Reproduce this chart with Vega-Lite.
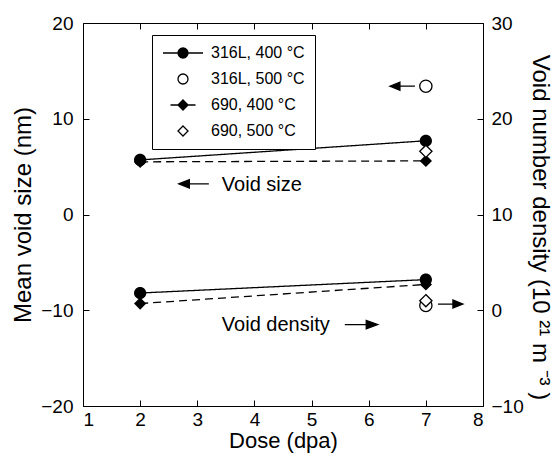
{
  "$schema": "https://vega.github.io/schema/vega-lite/v6.json",
  "width": 400,
  "height": 383,
  "autosize": "none",
  "padding": {"left": 83, "top": 23, "right": 77, "bottom": 52},
  "background": "white",
  "config": {
    "font": "Liberation Sans",
    "view": {"stroke": "black", "strokeWidth": 1},
    "axis": {
      "grid": false,
      "domain": false,
      "ticks": true,
      "tickColor": "black",
      "tickSize": -6,
      "labelFontSize": 19,
      "labelColor": "black",
      "labelFont": "Liberation Sans",
      "titleFontSize": 24,
      "titleFontWeight": "normal",
      "titleColor": "black",
      "titleFont": "Liberation Sans"
    }
  },
  "data": {
    "values": [
      {"series": "316L, 400 °C", "alloy": "316L", "temp": 400, "dose": 2, "size": 5.7, "density": 1.8},
      {"series": "316L, 400 °C", "alloy": "316L", "temp": 400, "dose": 7, "size": 7.7, "density": 3.2},
      {"series": "690, 400 °C", "alloy": "690", "temp": 400, "dose": 2, "size": 5.5, "density": 0.7},
      {"series": "690, 400 °C", "alloy": "690", "temp": 400, "dose": 7, "size": 5.6, "density": 2.7},
      {"series": "316L, 500 °C", "alloy": "316L", "temp": 500, "dose": 7, "size": 13.4, "density": 0.5},
      {"series": "690, 500 °C", "alloy": "690", "temp": 500, "dose": 7, "size": 6.6, "density": 1.0}
    ]
  },
  "layer": [
    {
      "layer": [
        {
          "encoding": {
            "x": {
              "field": "dose", "type": "quantitative",
              "scale": {"domain": [1, 8]},
              "axis": {"orient": "bottom", "values": [1, 2, 3, 4, 5, 6, 7, 8], "format": "d", "title": "Dose (dpa)", "titleFontSize": 22, "labelPadding": 10, "titlePadding": 1}
            },
            "y": {
              "field": "size", "type": "quantitative",
              "scale": {"domain": [-20, 20]},
              "axis": {"orient": "left", "values": [-20, -10, 0, 10, 20], "format": "d", "title": "Mean void size (nm)", "labelPadding": 16, "titlePadding": 5}
            }
          },
          "layer": [
            {
              "transform": [{"filter": "datum.temp == 400"}],
              "mark": {"type": "line", "color": "black", "strokeWidth": 1.3},
              "encoding": {
                "detail": {"field": "series"},
                "strokeDash": {"field": "alloy", "type": "nominal", "scale": {"domain": ["316L", "690"], "range": [[1, 0], [8, 5]]}, "legend": null}
              }
            },
            {
              "mark": {"type": "point", "filled": false, "opacity": 1, "size": 150},
              "encoding": {
                "shape": {
                  "field": "series", "type": "nominal",
                  "scale": {
                    "domain": ["316L, 400 °C", "316L, 500 °C", "690, 400 °C", "690, 500 °C"],
                    "range": [
                      "M-4,0H-1M1,0H4M-1,0A1,1 0 1,0 1,0A1,1 0 1,0 -1,0Z",
                      "M-1,0A1,1 0 1,0 1,0A1,1 0 1,0 -1,0Z",
                      "M-2.5,0H-1M1,0H2.5M0,-1L1,0L0,1L-1,0Z",
                      "M0,-1L1,0L0,1L-1,0Z"
                    ]
                  },
                  "legend": {
                    "orient": "none", "legendX": 69, "legendY": 12, "title": null,
                    "padding": 10, "strokeColor": "black", "fillColor": "white",
                    "symbolSize": 100, "symbolOffset": 13, "labelOffset": 20, "rowPadding": 10,
                    "labelFontSize": 16, "labelColor": "black", "labelFont": "Liberation Sans",
                    "symbolStrokeColor": "black", "symbolStrokeWidth": 1.3
                  }
                },
                "fill": {
                  "field": "series", "type": "nominal",
                  "scale": {"domain": ["316L, 400 °C", "316L, 500 °C", "690, 400 °C", "690, 500 °C"], "range": ["black", "white", "black", "white"]}
                },
                "stroke": {
                  "field": "series", "type": "nominal",
                  "scale": {"domain": ["316L, 400 °C", "316L, 500 °C", "690, 400 °C", "690, 500 °C"], "range": ["black", "black", "black", "black"]}
                },
                "strokeWidth": {"condition": {"test": "datum.temp == 500", "value": 1.3}, "value": 0}
              }
            }
          ]
        },
        {
          "data": {"values": [{"note": "Void size"}]},
          "mark": {"type": "text", "align": "left", "baseline": "middle", "fontSize": 20, "color": "black"},
          "encoding": {"x": {"datum": 3.43}, "y": {"datum": 3.1}, "text": {"field": "note"}}
        },
        {
          "data": {"values": [{"note": "Void density"}]},
          "mark": {"type": "text", "align": "left", "baseline": "middle", "fontSize": 20, "color": "black"},
          "encoding": {"x": {"datum": 3.43}, "y": {"datum": -11.5}, "text": {"field": "note"}}
        },
        {
          "data": {"values": [{"note": "size arrow"}]},
          "mark": {"type": "point", "shape": "M-1,0H0.4M1,0L0.3,-0.28L0.3,0.28Z", "filled": true, "fill": "black", "stroke": "black", "strokeWidth": 1.3, "opacity": 1, "size": 900, "angle": 180},
          "encoding": {"x": {"datum": 2.94}, "y": {"datum": 3.2}}
        },
        {
          "data": {"values": [{"note": "density arrow"}]},
          "mark": {"type": "point", "shape": "M-1,0H0.4M1,0L0.3,-0.25L0.3,0.25Z", "filled": true, "fill": "black", "stroke": "black", "strokeWidth": 1.3, "opacity": 1, "size": 1089},
          "encoding": {"x": {"datum": 5.87}, "y": {"datum": -11.5}}
        },
        {
          "data": {"values": [{"note": "316L 500 size arrow"}]},
          "mark": {"type": "point", "shape": "M-1,0H0.3M1,0L0.2,-0.32L0.2,0.32Z", "filled": true, "fill": "black", "stroke": "black", "strokeWidth": 1.3, "opacity": 1, "size": 625, "angle": 180},
          "encoding": {"x": {"datum": 6.59}, "y": {"datum": 13.4}}
        },
        {
          "data": {"values": [{"note": "500 density arrow"}]},
          "mark": {"type": "point", "shape": "M-1,0H0.3M1,0L0.2,-0.32L0.2,0.32Z", "filled": true, "fill": "black", "stroke": "black", "strokeWidth": 1.3, "opacity": 1, "size": 625},
          "encoding": {"x": {"datum": 7.43}, "y": {"datum": -9.35}}
        }
      ]
    },
    {
      "encoding": {
        "x": {
          "field": "dose", "type": "quantitative",
          "scale": {"domain": [1, 8]},
          "axis": {"orient": "top", "values": [1, 2, 3, 4, 5, 6, 7, 8], "labels": false, "title": null, "ticks": true, "tickSize": -6}
        },
        "y": {
          "field": "density", "type": "quantitative",
          "scale": {"domain": [-10, 30]},
          "axis": {"orient": "right", "values": [-10, 0, 10, 20, 30], "format": "d", "title": "Void number density (10 ²¹ m ⁻³ )", "labelPadding": 14, "titlePadding": 4, "titleY": 204}
        }
      },
      "layer": [
        {
          "transform": [{"filter": "datum.temp == 400"}],
          "mark": {"type": "line", "color": "black", "strokeWidth": 1.3},
          "encoding": {
            "detail": {"field": "series"},
            "strokeDash": {"field": "alloy", "type": "nominal", "scale": {"domain": ["316L", "690"], "range": [[1, 0], [8, 5]]}, "legend": null}
          }
        },
        {
          "mark": {"type": "point", "filled": false, "opacity": 1, "size": 150},
          "encoding": {
            "shape": {"field": "series", "type": "nominal"},
            "fill": {"field": "series", "type": "nominal"},
            "stroke": {"field": "series", "type": "nominal"},
            "strokeWidth": {"condition": {"test": "datum.temp == 500", "value": 1.3}, "value": 0}
          }
        }
      ]
    }
  ],
  "resolve": {"scale": {"y": "independent"}}
}
